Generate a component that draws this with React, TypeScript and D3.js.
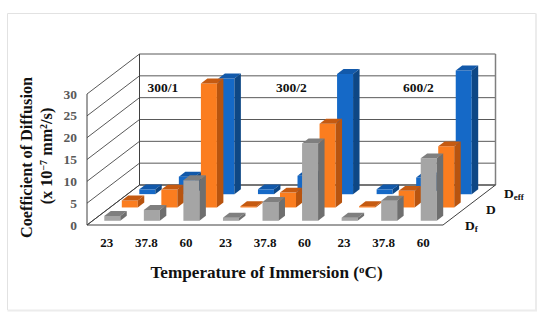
import React from 'react'
import * as d3 from 'd3'

const groups = ['300/1', '300/2', '600/2']
const temps = ['23', '37.8', '60', '23', '37.8', '60', '23', '37.8', '60']
const yTicks = [0, 5, 10, 15, 20, 25, 30]

// one value per temperature, front row to back row
const dfValues = [1.1, 2.5, 9.3, 0.7, 4.3, 17.7, 0.7, 4.6, 14.3]
const dValues = [1.6, 4.1, 28.4, 0.3, 3.4, 19.2, 0.3, 3.8, 14]
const deffValues = [1.1, 4, 26.5, 1.1, 4.2, 27.5, 1.1, 3.8, 28.3]

const rows = [
  { name: 'Df', values: dfValues, front: '#a5a5a5', top: '#7f7f7f', side: '#6f6f6f' },
  { name: 'D', values: dValues, front: '#fb7d1f', top: '#c55a11', side: '#b8540f' },
  { name: 'Deff', values: deffValues, front: '#1569c7', top: '#1259aa', side: '#0e4785' },
]

const serif = '"Liberation Serif", serif'

const x = d3.scaleBand<number>().domain(d3.range(9)).range([87, 443]).paddingInner(0).paddingOuter(0)
const y = d3.scaleLinear().domain([0, 30]).range([225, 94])
const depthX = d3.scaleLinear().domain([0, 3]).range([0, 52.5])
const depthY = d3.scaleLinear().domain([0, 3]).range([0, -40])

// x in slots, value on y axis, depth in rows
const pt = (px: number, v: number, d: number): [number, number] => [px + depthX(d), y(v) + depthY(d)]
const poly = (pts: [number, number][]) => d3.line()(pts) + 'Z'

const barWidth = 16
const barDepth = 0.37

export default function App() {
  const x0 = x.range()[0]
  const x1 = x.range()[1]

  const bars = [2, 1, 0].flatMap((r) =>
    rows[r].values.map((v, i) => {
      const d0 = r + (1 - barDepth) / 2
      const d1 = d0 + barDepth
      const left = (x(i) as number) + (x.bandwidth() - barWidth) / 2
      const right = left + barWidth
      return (
        <g key={`${r}-${i}`}>
          <path d={poly([pt(left, v, d0), pt(right, v, d0), pt(right, 0, d0), pt(left, 0, d0)])} fill={rows[r].front} />
          <path d={poly([pt(left, v, d0), pt(right, v, d0), pt(right, v, d1), pt(left, v, d1)])} fill={rows[r].top} />
          <path d={poly([pt(right, v, d0), pt(right, v, d1), pt(right, 0, d1), pt(right, 0, d0)])} fill={rows[r].side} />
        </g>
      )
    })
  )

  return (
    <svg width={550} height={320} style={{ position: 'absolute', left: 0, top: 0 }} fontFamily={serif} fontWeight="bold">
      <path d="M7.5,310 V13.5 H536" fill="none" stroke="#e2e2e2" strokeWidth={1} />
      <path d="M7.5,310.5 H536 V13.5" fill="none" stroke="#ececec" strokeWidth={2} />

      {/* walls */}
      {yTicks.map((t) => (
        <g key={t} stroke="#595959" strokeWidth={1} fill="none">
          <path d={d3.line()([pt(x0, t, 0), pt(x0, t, 3), pt(x1, t, 3)]) as string} />
        </g>
      ))}
      <path d={d3.line()([pt(x0, 0, 0), pt(x0, 30, 0)]) as string} stroke="#404040" fill="none" />
      <path d={d3.line()([pt(x0, 0, 3), pt(x0, 30, 3)]) as string} stroke="#404040" fill="none" />
      <path d={d3.line()([pt(x1, 0, 3), pt(x1, 30, 3)]) as string} stroke="#7f7f7f" strokeWidth={1.5} fill="none" />
      <path d={poly([pt(x0, 0, 0), pt(x1, 0, 0), pt(x1, 0, 3), pt(x0, 0, 3)])} stroke="#404040" fill="none" />

      {bars}

      {yTicks.map((t) => (
        <text key={t} x={77} y={y(t) + 4.5} textAnchor="end" fontSize={13.5} fill="#595959">{t}</text>
      ))}
      {temps.map((t, i) => (
        <text key={i} x={(x(i) as number) + x.bandwidth() / 2} y={246.5} textAnchor="middle" fontSize={13} fill="#111">{t}</text>
      ))}
      {groups.map((g, i) => (
        <text key={g} x={[163, 291.5, 418.5][i]} y={92} textAnchor="middle" fontSize={13.5} fill="#111">{g}</text>
      ))}

      <text x={465} y={230} fontSize={13.5} fill="#111">D<tspan fontSize={9} dy={2}>f</tspan></text>
      <text x={486} y={214} fontSize={13.5} fill="#111">D</text>
      <text x={504} y={198} fontSize={13.5} fill="#111">D<tspan fontSize={9} dy={2}>eff</tspan></text>

      <text transform="translate(32,157.5) rotate(-90)" textAnchor="middle" fontSize={16.2} fill="#111">Coefficient of Diffusion</text>
      <text transform="translate(52,156) rotate(-90)" textAnchor="middle" fontSize={16.2} fill="#111">
        (x 10<tspan fontSize={10} dy={-5}>−7</tspan><tspan dy={5}> mm</tspan><tspan fontSize={10} dy={-5}>2</tspan><tspan dy={5}>/s)</tspan>
      </text>
      <text x={266.5} y={278} textAnchor="middle" fontSize={17.2} fill="#111">
        Temperature of Immersion (<tspan fontSize={11} dy={-5}>o</tspan><tspan dy={5}>C)</tspan>
      </text>
    </svg>
  )
}
